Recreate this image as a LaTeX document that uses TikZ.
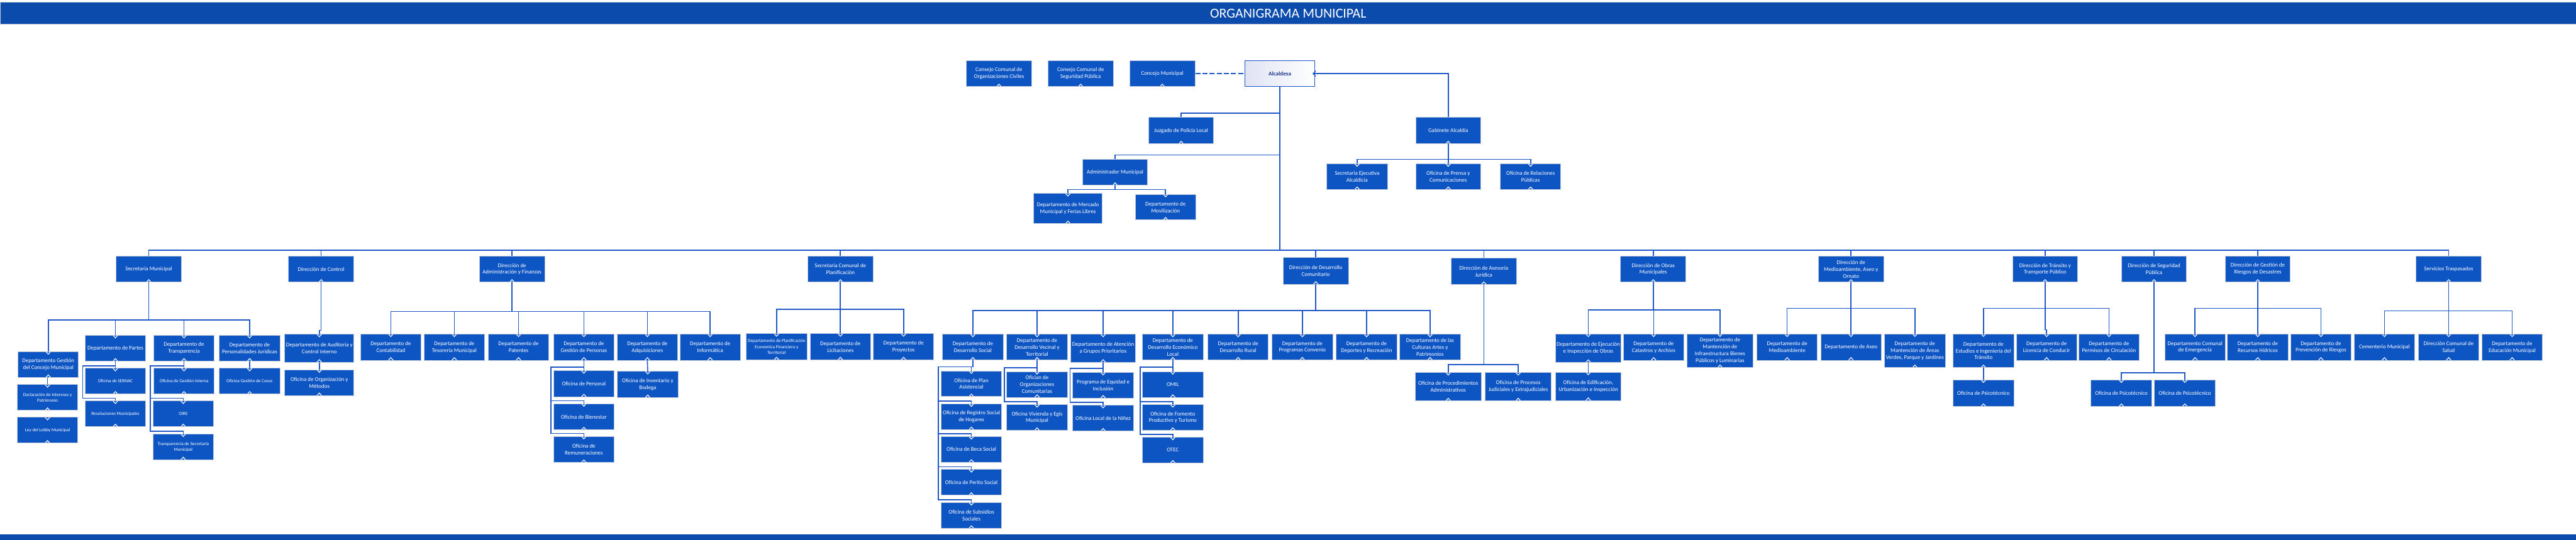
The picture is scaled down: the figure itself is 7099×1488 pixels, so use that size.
\documentclass[tikz,border=0pt]{standalone}
\usepackage{fontspec}
\setmainfont{Carlito}
\usetikzlibrary{arrows.meta,calc}
\definecolor{boxblue}{RGB}{14,85,196}
\definecolor{lineblue}{RGB}{30,88,200}
\definecolor{bannerblue}{RGB}{11,75,172}
\definecolor{boxedge}{RGB}{196,204,220}
\definecolor{alcfill}{RGB}{224,227,243}
\definecolor{alctext}{RGB}{28,58,140}
\tikzset{
  box/.style={draw=boxedge, line width=0.45pt, fill=boxblue, text=white,
    inner sep=0pt, align=center, minimum width=1.67cm, minimum height=0.72cm,
    font=\fontsize{4.4}{5.4}\selectfont,
    path picture={\draw[white,line width=0.55pt]
      ([xshift=-0.065cm]path picture bounding box.south) --
      ([yshift=0.07cm]path picture bounding box.south) --
      ([xshift=0.065cm]path picture bounding box.south);}},
  sub/.style={box, path picture={\draw[white,line width=0.55pt]
      ([xshift=-0.065cm]path picture bounding box.south) --
      ([yshift=0.07cm]path picture bounding box.south) --
      ([xshift=0.065cm]path picture bounding box.south);
      \draw[white,line width=0.55pt]
      ([xshift=-0.065cm]path picture bounding box.north) --
      ([yshift=-0.07cm]path picture bounding box.north) --
      ([xshift=0.065cm]path picture bounding box.north);}},
  small/.style={font=\fontsize{3.6}{4.6}\selectfont},
  conn/.style={draw=lineblue, line width=0.8pt},
}
\begin{document}
\begin{tikzpicture}[x=0.01cm,y=-0.01cm]
\useasboundingbox (0,0) rectangle (7099,1488);
% banner and bottom band
\path[fill=bannerblue, draw=boxedge, line width=0.4pt] (0,6) rectangle (7099,67);
\node[text=white, font=\fontsize{10.8}{12}\selectfont] (title) at (3550,37) {ORGANIGRAMA MUNICIPAL};
\fill[bannerblue] (0,1473) rectangle (7099,1488);

% ---------- top ----------
\node[box, minimum width=1.8cm] (cc1) at (2753,203) {Consejo Comunal de\\Organizaciones Civiles};
\node[box, minimum width=1.8cm] (cc2) at (2978,203) {Consejo Comunal de\\Seguridad Pública};
\node[box, minimum width=1.8cm] (cm) at (3203,203) {Concejo Municipal};
\node[draw=lineblue, line width=0.5pt, left color=alcfill, right color=white, text=alctext,
  font=\fontsize{4.5}{5.5}\selectfont\bfseries, minimum width=1.92cm, minimum height=0.72cm,
  inner sep=0pt] (alc) at (3527,203) {Alcaldesa};

\node[box, minimum width=1.79cm, minimum height=0.73cm] (juz) at (3255,360) {Juzgado de Policía Local};
\node[box, minimum width=1.78cm, minimum height=0.73cm] (gab) at (3991,360) {Gabinete Alcaldía};
\node[box, minimum width=1.78cm] (adm) at (3073,475) {Administrador Municipal};
\node[sub, minimum width=1.9cm, minimum height=0.83cm] (mer) at (2943,575) {Departamento de Mercado\\Municipal y Ferias Libres};
\node[sub, minimum width=1.66cm, minimum height=0.71cm] (mov) at (3212,571) {Departamento de\\Movilización};
\node[sub, minimum height=0.71cm] (sea) at (3740,487) {Secretaria Ejecutiva\\Alcaldicia};
\node[sub, minimum width=1.78cm, minimum height=0.71cm] (pre) at (3991,487) {Oficina de Prensa y\\Comunicaciones};
\node[sub, minimum height=0.71cm] (rrpp) at (4218,487) {Oficina de Relaciones\\Públicas};

% ---------- directors ----------
\node[box, minimum width=1.8cm] (sm) at (410,742) {Secretaría Municipal};
\node[box, minimum width=1.8cm] (dc) at (885,742) {Dirección de Control};
\node[box, minimum width=1.8cm] (daf) at (1411,742) {Dirección de\\Administración y Finanzas};
\node[box, minimum width=1.8cm] (secpla) at (2316,742) {Secretaria Comunal de\\Planificación};
\node[box, minimum width=1.8cm, minimum height=0.73cm] (dideco) at (3626,747) {Dirección de Desarrollo\\Comunitario};
\node[box, minimum width=1.8cm, minimum height=0.72cm] (daj) at (4089,748) {Dirección de Asesoría\\Jurídica};
\node[box, minimum width=1.8cm] (dom) at (4556,742) {Dirección de Obras\\Municipales};
\node[box, minimum width=1.8cm] (dmao) at (5101,742) {Dirección de\\Medioambiente, Aseo y\\Ornato};
\node[box, minimum width=1.78cm] (dtt) at (5636,742) {Dirección de Tránsito y\\Transporte Público};
\node[box, minimum width=1.78cm] (dsp) at (5936,742) {Dirección de Seguridad\\Pública};
\node[box, minimum width=1.79cm] (dgr) at (6222,742) {Dirección de Gestión de\\Riesgos de Desastres};
\node[box, minimum width=1.79cm] (st) at (6748,742) {Servicios Traspasados};

% ---------- Secretaria Municipal ----------
\node[sub, minimum height=0.71cm] (gcm) at (133,1005) {Departamento Gestión\\del Concejo Municipal};
\node[sub, minimum height=0.71cm] (par) at (318,960) {Departamento de Partes};
\node[sub, minimum height=0.71cm] (tra) at (507,960) {Departamento de\\Transparencia};
\node[sub, minimum height=0.71cm] (pj) at (688,960) {Departamento de\\Personalidades Jurídicas};
\node[sub, small, minimum height=0.71cm] (dip) at (131,1096) {Declaración de Intereses y\\Patrimonio};
\node[sub, small, minimum height=0.71cm] (lob) at (131,1186) {Ley del Lobby Municipal};
\node[sub, small, minimum height=0.71cm] (ser) at (318,1051) {Oficina de SERNAC};
\node[sub, small, minimum height=0.71cm] (res) at (318,1141) {Resoluciones Municipales};
\node[sub, small, minimum height=0.71cm] (ogi) at (507,1051) {Oficina de Gestión Interna};
\node[sub, small, minimum height=0.71cm] (oirs) at (505,1141) {OIRS};
\node[sub, small, minimum height=0.71cm] (tsm) at (505,1232) {Transparencia de Secretaría\\Municipal};
\node[sub, small, minimum height=0.71cm] (cos) at (688,1051) {Oficina Gestión de Cosoc};

% ---------- Control ----------
\node[sub, minimum width=1.91cm, minimum height=0.77cm] (aud) at (880,960) {Departamento de Auditoria y\\Control Interno};
\node[sub, minimum width=1.91cm, minimum height=0.71cm] (oym) at (880,1055) {Oficina de Organización y\\Métodos};

% ---------- Administracion y Finanzas ----------
\node[sub] (con) at (1077,957) {Departamento de\\Contabilidad};
\node[sub] (tes) at (1252,957) {Departamento de\\Tesoreria Municipal};
\node[sub] (pat) at (1429,957) {Departamento de\\Patentes};
\node[sub] (gp) at (1609,957) {Departamento de\\Gestión de Personas};
\node[sub] (adq) at (1784,957) {Departamento de\\Adquisiciones};
\node[sub] (inf) at (1957,957) {Departamento de\\Informática};
\node[sub] (per) at (1609,1058) {Oficina de Personal};
\node[sub] (bie) at (1609,1149) {Oficina de Bienestar};
\node[sub] (rem) at (1609,1239) {Oficina de\\Remuneraciones};
\node[sub] (inv) at (1785,1060) {Oficina de Inventario y\\Bodega};

% ---------- SECPLA ----------
\node[sub, small] (pef) at (2140,956) {Departamento de Planificación\\Economica Financiera y\\Territorial};
\node[sub] (lic) at (2316,956) {Departamento de\\Licitaciones};
\node[sub] (pro) at (2490,956) {Departamento de\\Proyectos};

% ---------- DIDECO ----------
\node[sub, minimum height=0.71cm] (dso) at (2681,957) {Departamento de\\Desarrollo Social};
\node[sub, minimum height=0.71cm] (dvt) at (2858,957) {Departamento de\\Desarrollo Vecinal y\\Territorial};
\node[sub, minimum width=1.79cm, minimum height=0.77cm] (agp) at (3040,960) {Departamento de Atención\\a Grupos Prioritarios};
\node[sub, minimum height=0.71cm] (del) at (3232,957) {Departamento de\\Desarrollo Económico\\Local};
\node[sub, minimum height=0.71cm] (dru) at (3412,957) {Departamento de\\Desarrollo Rural};
\node[sub, minimum height=0.71cm] (dpc) at (3589,957) {Departamento de\\Programas Convenio};
\node[sub, minimum height=0.71cm] (ddr) at (3766,957) {Departamento de\\Deportes y Recreación};
\node[sub, minimum height=0.71cm] (dcap) at (3941,957) {Departamento de las\\Culturas Artes y\\Patrimonios};
\node[sub, minimum height=0.71cm] (opa) at (2677,1058) {Oficina de Plan\\Asistencial};
\node[sub, minimum height=0.71cm] (rsh) at (2677,1149) {Oficina de Registro Social\\de Hogares};
\node[sub, minimum height=0.71cm] (obs) at (2677,1239) {Oficina de Beca Social};
\node[sub, minimum height=0.71cm] (ops) at (2677,1330) {Oficina de Perito Social};
\node[sub, minimum height=0.71cm] (oss) at (2677,1421) {Oficina de Subsidios\\Sociales};
\node[sub, minimum height=0.71cm] (oco) at (2858,1060) {Ofician de\\Organizaciones\\Comunitarias};
\node[sub, minimum height=0.71cm] (ove) at (2858,1151) {Oficina Vivienda y Egis\\Municipal};
\node[sub, minimum height=0.71cm] (pei) at (3040,1062) {Programa de Equidad e\\Inclusión};
\node[sub, minimum height=0.71cm] (oln) at (3040,1153) {Oficina Local de la Niñez};
\node[sub, minimum height=0.71cm] (omil) at (3232,1060) {OMIL};
\node[sub, minimum height=0.71cm] (ofp) at (3232,1151) {Oficina de Fomento\\Productivo y Turismo};
\node[sub, minimum height=0.71cm] (otec) at (3232,1241) {OTEC};

% ---------- Juridica ----------
\node[sub, minimum width=1.82cm, minimum height=0.78cm] (opad) at (3991,1066) {Oficina de Procedimientos\\Administrativos};
\node[sub, minimum width=1.82cm, minimum height=0.78cm] (opj) at (4184,1066) {Oficina de Procesos\\Judiciales y Extrajudiciales};

% ---------- Obras ----------
\node[sub, minimum width=1.81cm, minimum height=0.78cm] (eio) at (4377,960) {Departamento de Ejecución\\e Inspección de Obras};
\node[sub] (cat) at (4557,957) {Departamento de\\Catastros y Archivo};
\node[sub, minimum width=1.81cm, minimum height=0.93cm] (mib) at (4740,967) {Departamento de\\Mantención de\\Infraestructura Bienes\\Públicos y Luminarias};
\node[sub, minimum width=1.81cm, minimum height=0.78cm] (oeu) at (4377,1065) {Oficina de Edificación,\\Urbanización e Inspección};

% ---------- Medioambiente ----------
\node[sub] (dma) at (4925,957) {Departamento de\\Medioambiente};
\node[sub] (das) at (5101,957) {Departamento de Aseo};
\node[sub, minimum height=0.93cm] (mav) at (5277,967) {Departamento de\\Mantención de Áreas\\Verdes, Parque y Jardínes};

% ---------- Transito ----------
\node[sub, minimum height=0.93cm] (eit) at (5466,967) {Departamento de\\Estudios e Ingeniería del\\Tránsito};
\node[sub] (ldc) at (5640,957) {Departamento de\\Licencia de Conducir};
\node[sub] (pdc) at (5812,957) {Departamento de\\Permisos de Circulación};
\node[sub, minimum height=0.73cm] (psia) at (5466,1084) {Oficina de Psicotécnico};

% ---------- Seguridad ----------
\node[sub, minimum height=0.73cm] (psib) at (5846,1084) {Oficina de Psicotécnico};
\node[sub, minimum height=0.73cm] (psic) at (6021,1084) {Oficina de Psicotécnico};

% ---------- Riesgos ----------
\node[sub] (dce) at (6049,957) {Departamento Comunal\\de Emergencia};
\node[sub] (drh) at (6222,957) {Departamento de\\Recursos Hídricos};
\node[sub] (dpr) at (6396,957) {Departamento de\\Prevención de Riesgos};

% ---------- Servicios Traspasados ----------
\node[sub] (cem) at (6571,957) {Cementerio Municipal};
\node[sub] (dcs) at (6748,957) {Dirección Comunal de\\Salud};
\node[sub] (dem) at (6923,957) {Departamento de\\Educación Municipal};

% ================= connectors =================
\coordinate (mbus) at (0,690);
\coordinate (jz) at (0,312);
\coordinate (ad) at (0,427);

\draw[conn, line width=1pt, dash pattern=on 4pt off 1.6pt] (cm.east) -- (alc.west);
\draw[conn, shorten >=-0.07cm, -{Straight Barb[length=2.2pt,width=4.4pt,line width=0.6pt]}] (gab.north) |- (alc.east);

\draw[conn] (alc.south) -- (alc.south |- mbus);
\draw[conn] (sm.north) |- (st.north |- mbus) -- (st.north);
\foreach \nn in {dc,daf,secpla,dideco,daj,dom,dmao,dtt,dsp,dgr}{\draw[conn] (\nn.north) -- (\nn.north |- mbus);}

\draw[conn] (alc.south |- jz) -| (juz.north);
\draw[conn] (alc.south |- ad) -| (adm.north);
\foreach \ch in {mer,mov}{\draw[conn] (adm.south) -- ++(0,11) -| (\ch.north);}
\foreach \ch in {sea,pre,rrpp}{\draw[conn] (gab.south) -- ++(0,42) -| (\ch.north);}

% Secretaria Municipal
\foreach \ch in {gcm,par,tra,pj}{\draw[conn] (sm.south) -- ++(0,103) -| (\ch.north);}
\draw[conn] (dip.north |- gcm.south) -- (dip.north);
\draw[conn] (par.south) -- (ser.north);
\draw[conn] (par.south) -- ++(0,12) -| ($(res.north west)+(-6,-7)$) -| (res.north);
\draw[conn] (tra.south) -- (ogi.north);
\foreach \ch in {oirs,tsm}{\draw[conn] (tra.south) -- ++(0,12) -| ($(\ch.north west)+(-6,-7)$) -| (\ch.north);}
\draw[conn] (pj.south) -- (cos.north);

% Control
\draw[conn] (dc.south) -- ++(0,132) -| (aud.north);
\draw[conn] (aud.south) -- (oym.north);

% DAF
\foreach \ch in {con,tes,pat,gp,adq,inf}{\draw[conn] (daf.south) -- ++(0,80) -| (\ch.north);}
\draw[conn] (gp.south) -- (per.north);
\foreach \ch in {bie,rem}{\draw[conn] (gp.south) -- ++(0,18) -| ($(\ch.north west)+(-6,-7)$) -| (\ch.north);}
\draw[conn] (adq.south) -- (inv.north);

% SECPLA
\foreach \ch in {pef,lic,pro}{\draw[conn] (secpla.south) -- ++(0,74) -| (\ch.north);}

% DIDECO
\foreach \ch in {dso,dvt,agp,del,dru,dpc,ddr,dcap}{\draw[conn] (dideco.south) -- ++(0,72) -| (\ch.north);}
\draw[conn] (dso.south) -- ++(0,18) -| (opa.north);
\foreach \ch in {rsh,obs,ops,oss}{\draw[conn] (dso.south) -- ++(0,18) -| ($(\ch.north west)+(-7,-7)$) -| (\ch.north);}
\draw[conn] (dvt.south) -- (oco.north);
\draw[conn] (dvt.south) -- ++(0,21) -| ($(ove.north west)+(-6,-7)$) -| (ove.north);
\draw[conn] (agp.south) -- (pei.north);
\draw[conn] (agp.south) -- ++(0,16) -| ($(oln.north west)+(-7,-7)$) -| (oln.north);
\draw[conn] (del.south) -- (omil.north);
\foreach \ch in {ofp,otec}{\draw[conn] (del.south) -- ++(0,19) -| ($(\ch.north west)+(-6,-7)$) -| (\ch.north);}

% Juridica
\foreach \ch in {opad,opj}{\draw[conn] (daj.south) -- ++(0,220) -| (\ch.north);}

% Obras
\foreach \ch in {eio,cat,mib}{\draw[conn] (dom.south) -- ++(0,76) -| (\ch.north);}
\draw[conn] (eio.south) -- (oeu.north);

% Medioambiente
\foreach \ch in {dma,das,mav}{\draw[conn] (dmao.south) -- ++(0,71) -| (\ch.north);}

% Transito
\foreach \ch in {eit,pdc}{\draw[conn] (dtt.south) -- ++(0,71) -| (\ch.north);}
\draw[conn] (dtt.south) -- ++(0,130) -| (ldc.north);
\draw[conn] (eit.south) -- (psia.north);

% Seguridad
\foreach \ch in {psib,psic}{\draw[conn] (dsp.south) -- ++(0,249) -| (\ch.north);}

% Riesgos
\foreach \ch in {dce,drh,dpr}{\draw[conn] (dgr.south) -- ++(0,71) -| (\ch.north);}

% Servicios Traspasados
\foreach \ch in {cem,dcs,dem}{\draw[conn] (st.south) -- ++(0,78) -| (\ch.north);}
\end{tikzpicture}
\end{document}
